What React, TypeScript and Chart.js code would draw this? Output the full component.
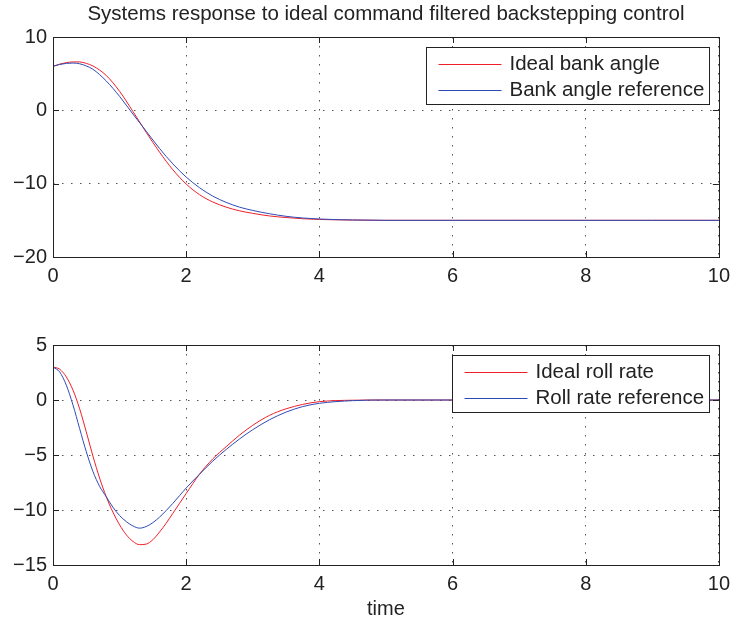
import { useEffect, useRef } from "react";
import { Chart, registerables } from "chart.js";

Chart.register(...registerables);

const FONT = "'Liberation Sans', Arial, Helvetica, sans-serif";
const TEXT = "#222222";

const titleText = "Systems response to ideal command filtered backstepping control";
const xLabel = "time";
const xTicks = [0, 2, 4, 6, 8, 10];
const topYTicks = [-20, -10, 0, 10];
const bottomYTicks = [-15, -10, -5, 0, 5];

const topLegend = ["Ideal bank angle", "Bank angle reference"];
const bottomLegend = ["Ideal roll rate", "Roll rate reference"];
const seriesColors = ["#f01e28", "#2e4bb8"];

const bankTime = [0, 0.1, 0.2, 0.3, 0.4, 0.5, 0.6, 0.8, 1.0, 1.2, 1.4, 1.6, 1.8, 2.0, 2.2, 2.4, 2.6, 2.8, 3.0, 3.25, 3.5, 3.75, 4.0, 4.5, 5, 6, 7, 8, 9, 10];
const idealBank = [6.0, 6.3, 6.5, 6.6, 6.6, 6.4, 6.05, 4.75, 2.6, -0.15, -3.0, -5.7, -8.1, -10.05, -11.5, -12.5, -13.2, -13.7, -14.05, -14.4, -14.62, -14.78, -14.88, -14.96, -15, -15, -15, -15, -15, -15];
const bankRef = [6.0, 6.25, 6.4, 6.45, 6.35, 6.05, 5.6, 4.0, 1.9, -0.5, -2.85, -5.2, -7.3, -9.1, -10.55, -11.7, -12.55, -13.2, -13.65, -14.1, -14.45, -14.68, -14.82, -14.95, -15, -15, -15, -15, -15, -15];

const rollTime = [0, 0.1, 0.2, 0.3, 0.4, 0.5, 0.6, 0.7, 0.8, 0.9, 1.0, 1.1, 1.2, 1.3, 1.4, 1.5, 1.6, 1.7, 1.8, 1.9, 2.0, 2.2, 2.4, 2.6, 2.8, 3.0, 3.25, 3.5, 3.75, 4.0, 4.5, 5, 6, 7, 8, 9, 10];
const idealRoll = [3.0, 2.8, 2.1, 0.9, -0.8, -2.9, -5.1, -7.1, -8.8, -10.2, -11.35, -12.25, -12.85, -13.15, -13.1, -12.7, -12.0, -11.2, -10.3, -9.4, -8.5, -6.75, -5.35, -4.25, -3.2, -2.3, -1.4, -0.8, -0.4, -0.15, -0.02, 0, 0, 0, 0, 0, 0];
const rollRef = [3.0, 2.55, 1.35, -0.45, -2.6, -4.7, -6.5, -7.85, -8.8, -9.75, -10.5, -11.05, -11.45, -11.65, -11.5, -11.15, -10.65, -10.05, -9.4, -8.7, -8.0, -6.75, -5.55, -4.5, -3.55, -2.7, -1.8, -1.1, -0.6, -0.3, -0.06, 0, 0, 0, 0, 0, 0];

const fmt = (v: number | string) => String(v).replace("-", "\u2212");

function framePlugin(legendLabels: string[], legendOffsets: { right: number; top: number }, withTitle: boolean) {
  return {
    id: "frame",
    afterDraw(chart: any) {
      const { ctx, chartArea: a } = chart;
      const xs = chart.scales.x;
      const ys = chart.scales.y;
      ctx.save();
      ctx.strokeStyle = TEXT;
      ctx.lineWidth = 1;
      ctx.setLineDash([]);
      const tl = 6;
      ctx.beginPath();
      xs.ticks.forEach((t: any) => {
        const px = Math.round(xs.getPixelForValue(t.value)) + 0.5;
        ctx.moveTo(px, a.top);
        ctx.lineTo(px, a.top + tl);
        ctx.moveTo(px, a.bottom);
        ctx.lineTo(px, a.bottom - tl);
      });
      ys.ticks.forEach((t: any) => {
        const py = Math.round(ys.getPixelForValue(t.value)) + 0.5;
        ctx.moveTo(a.left, py);
        ctx.lineTo(a.left + tl, py);
        ctx.moveTo(a.right, py);
        ctx.lineTo(a.right - tl, py);
      });
      ctx.stroke();
      ctx.strokeRect(Math.round(a.left) + 0.5, Math.round(a.top) + 0.5, Math.round(a.right - a.left), Math.round(a.bottom - a.top));

      ctx.font = `20.5px ${FONT}`;
      const textW = Math.max(...legendLabels.map((s) => ctx.measureText(s).width));
      const boxW = Math.round(83 + textW + 5);
      const boxH = 57;
      const bx = Math.round(a.right - legendOffsets.right - boxW) + 0.5;
      const by = Math.round(a.top + legendOffsets.top) + 0.5;
      ctx.fillStyle = "#ffffff";
      ctx.fillRect(bx, by, boxW, boxH);
      ctx.strokeStyle = TEXT;
      ctx.strokeRect(bx, by, boxW, boxH);
      const rows = [16.5, 42.3];
      legendLabels.forEach((label, i) => {
        const ry = Math.round(by + rows[i]) + 0.5;
        ctx.strokeStyle = chart.data.datasets[i].borderColor;
        ctx.beginPath();
        ctx.moveTo(bx + 12, ry);
        ctx.lineTo(bx + 75, ry);
        ctx.stroke();
        ctx.fillStyle = TEXT;
        ctx.textAlign = "left";
        ctx.textBaseline = "middle";
        ctx.fillText(label, bx + 83, ry);
      });

      if (withTitle) {
        ctx.font = `20.5px ${FONT}`;
        ctx.fillStyle = TEXT;
        ctx.textAlign = "center";
        ctx.textBaseline = "middle";
        ctx.fillText(titleText, (a.left + a.right) / 2, 14);
      }
      ctx.restore();
    },
  };
}

function makeConfig(
  time: number[],
  s1: number[],
  s2: number[],
  labels: string[],
  yTicks: number[],
  opts: { padTop: number; padBottom: number; xHeight: number; showXTitle: boolean; legendTop: number; legendRight: number; withTitle: boolean }
): any {
  const gridDash = [1.5, 7.5];
  return {
    type: "line",
    data: {
      datasets: [
        {
          label: labels[0],
          data: time.map((t, i) => ({ x: t, y: s1[i] })),
          borderColor: seriesColors[0],
          borderWidth: 1,
          pointRadius: 0,
          cubicInterpolationMode: "monotone",
          order: 1,
        },
        {
          label: labels[1],
          data: time.map((t, i) => ({ x: t, y: s2[i] })),
          borderColor: seriesColors[1],
          borderWidth: 1,
          pointRadius: 0,
          cubicInterpolationMode: "monotone",
          order: 0,
        },
      ],
    },
    options: {
      animation: false,
      responsive: false,
      devicePixelRatio: 1,
      layout: { padding: { left: 0, right: 13, top: opts.padTop, bottom: opts.padBottom } },
      plugins: { legend: { display: false }, tooltip: { enabled: false }, title: { display: false } },
      scales: {
        x: {
          type: "linear",
          min: xTicks[0],
          max: xTicks[xTicks.length - 1],
          afterBuildTicks: (s: any) => {
            s.ticks = xTicks.map((v) => ({ value: v }));
          },
          afterFit: (s: any) => {
            s.height = opts.xHeight;
          },
          grid: { color: "#555555", lineWidth: 1, drawTicks: false },
          border: { display: false, dash: gridDash },
          ticks: {
            padding: 7,
            color: TEXT,
            font: { family: FONT, size: 20 },
            maxRotation: 0,
            callback: (v: any) => fmt(v),
          },
          title: {
            display: opts.showXTitle,
            text: xLabel,
            color: TEXT,
            font: { family: FONT, size: 20 },
            padding: { top: 0, bottom: 3 },
          },
        },
        y: {
          type: "linear",
          min: yTicks[0],
          max: yTicks[yTicks.length - 1],
          afterBuildTicks: (s: any) => {
            s.ticks = yTicks.map((v) => ({ value: v }));
          },
          afterFit: (s: any) => {
            s.width = 53;
          },
          grid: { color: "#555555", lineWidth: 1, drawTicks: false },
          border: { display: false, dash: gridDash },
          ticks: {
            padding: 6,
            color: TEXT,
            font: { family: FONT, size: 20 },
            callback: (v: any) => fmt(v),
          },
        },
      },
    },
    plugins: [framePlugin(labels, { right: opts.legendRight, top: opts.legendTop }, opts.withTitle)],
  };
}

export default function App() {
  const topRef = useRef<HTMLCanvasElement | null>(null);
  const botRef = useRef<HTMLCanvasElement | null>(null);

  useEffect(() => {
    const c1 = new Chart(
      topRef.current as HTMLCanvasElement,
      makeConfig(bankTime, idealBank, bankRef, topLegend, topYTicks, {
        padTop: 37,
        padBottom: 13,
        xHeight: 30,
        showXTitle: false,
        legendTop: 9.5,
        legendRight: 9.5,
        withTitle: true,
      })
    );
    const c2 = new Chart(
      botRef.current as HTMLCanvasElement,
      makeConfig(rollTime, idealRoll, rollRef, bottomLegend, bottomYTicks, {
        padTop: 45,
        padBottom: 0,
        xHeight: 59,
        showXTitle: true,
        legendTop: 9.5,
        legendRight: 10,
        withTitle: false,
      })
    );
    return () => {
      c1.destroy();
      c2.destroy();
    };
  }, []);

  return (
    <div style={{ position: "absolute", left: 0, top: 0, width: 737, height: 624, background: "#ffffff" }}>
      <canvas ref={topRef} width={737} height={300} style={{ position: "absolute", left: 0, top: 0, display: "block" }} />
      <canvas ref={botRef} width={737} height={324} style={{ position: "absolute", left: 0, top: 300, display: "block" }} />
    </div>
  );
}
